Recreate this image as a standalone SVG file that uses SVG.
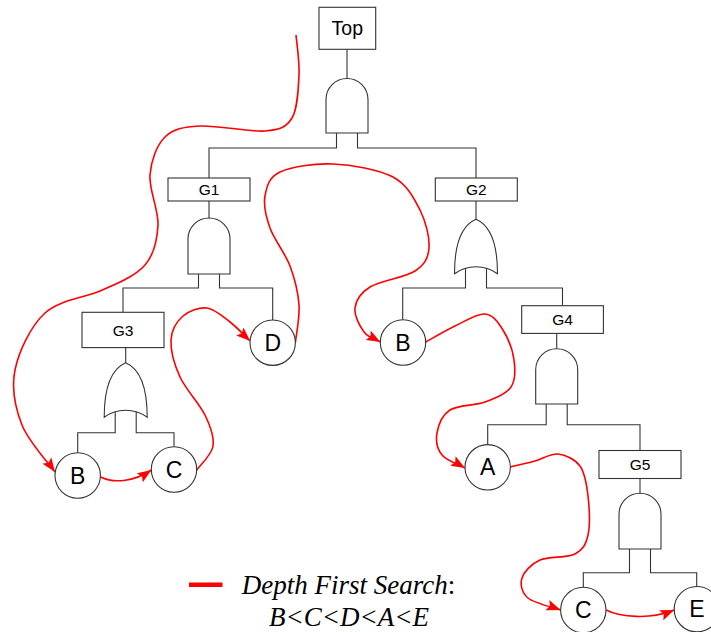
<svg xmlns="http://www.w3.org/2000/svg" width="711" height="632" viewBox="0 0 711 632">
  <style>
    .box { fill: #fff; stroke: #333; stroke-width: 1.1; }
    .gate { fill: #fff; stroke: #333; stroke-width: 1.1; }
    .event { fill: #fff; stroke: #333; stroke-width: 1.1; }
    .edge { fill: none; stroke: #333; stroke-width: 1.1; }
    .label { font-family: "Liberation Sans", Arial, sans-serif; fill: #000; text-anchor: middle; }
    .gl { font-size: 15.5px; }
    .el { font-size: 23px; }
    .dfs { fill: none; stroke: #ff0000; stroke-width: 1.6; marker-end: url(#arrow); }
    .legend { font-family: "Liberation Serif", "Times New Roman", serif; font-size: 27px; font-style: italic; fill: #000; text-anchor: middle; }
  </style>
  <defs>
    <marker id="arrow" markerUnits="userSpaceOnUse" markerWidth="14" markerHeight="11" viewBox="0 0 13 10" refX="13" refY="5" orient="auto">
      <path d="M0,0 L13,5 L0,10 L2.5,5 Z" fill="#ff0000"/>
    </marker>
  </defs>

  <rect width="711" height="632" fill="#fff"/>

  <!-- tree edges -->
  <g id="connectors">
    <path class="edge" d="M347,49.3 V78"/>
    <path class="edge" d="M336.5,133 V148 H209 V178"/>
    <path class="edge" d="M357.5,133 V148 H476 V178"/>
    <path class="edge" d="M209,201 V218"/>
    <path class="edge" d="M198.5,274 V288 H123 V312.3"/>
    <path class="edge" d="M219.5,274 V288 H272.7 V320"/>
    <path class="edge" d="M125.7,347.6 V362.7"/>
    <path class="edge" d="M115.2,411.8 V432.7 H77.7 V452.8"/>
    <path class="edge" d="M136.2,411.8 V432.7 H174 V446.8"/>
    <path class="edge" d="M476,201 V219.3"/>
    <path class="edge" d="M465.5,268.2 V288 H402.7 V319.8"/>
    <path class="edge" d="M486.5,268.2 V288 H562.5 V305.7"/>
    <path class="edge" d="M556.7,333.4 V348.7"/>
    <path class="edge" d="M546.2,404 V424.7 H487.7 V444.6"/>
    <path class="edge" d="M567.2,404 V424.7 H640 V450.5"/>
    <path class="edge" d="M640,478.5 V493.3"/>
    <path class="edge" d="M629.5,549 V572.7 H583.3 V587.3"/>
    <path class="edge" d="M650.5,549 V572.7 H696.7 V586.4"/>
  </g>

  <!-- depth first search traversal -->
  <g id="search-path">
    <path class="dfs" d="M296,35 C296.5,41.7 299.7,61.2 299,75 C298.3,88.8 297.7,108.7 292,118 C286.3,127.3 280.3,129.7 265,131 C249.7,132.3 216.7,125 200,126 C183.3,127 173.3,128.8 165,137 C156.7,145.2 151.2,160.3 150,175 C148.8,189.7 158.8,210 158,225 C157.2,240 154.7,253.8 145,265 C135.3,276.2 116.7,284 100,291 C83.3,298 59.2,300 45,313 C30.8,326 18.8,351.3 15,370 C11.2,388.7 15.3,408 22,425 C28.7,442 49.5,464.2 55,472"/>
    <path class="dfs" d="M100.5,477 C115,484 135,481 151.4,470"/>
    <path class="dfs" d="M196.7,470 C199.4,466 211.6,455.2 213,446 C214.4,436.8 210.5,426.5 205,415 C199.5,403.5 185.7,389.5 180,377 C174.3,364.5 170.5,350.2 171,340 C171.5,329.8 177,321.3 183,316 C189,310.7 199.2,307 207,308 C214.8,309 222.8,316.5 230,322 C237.2,327.5 246.7,337.8 250.2,341"/>
    <path class="dfs" d="M295.3,343 C295.9,336.7 299.9,317.8 299,305 C298.1,292.2 294.8,278.8 290,266 C285.2,253.2 274.2,239.7 270,228 C265.8,216.3 263.3,205.3 265,196 C266.7,186.7 268.7,177.3 280,172 C291.3,166.7 314.2,163.2 333,164 C351.8,164.8 378.5,169.3 393,177 C407.5,184.7 414,198.2 420,210 C426,221.8 429.8,237.8 429,248 C428.2,258.2 424.8,264.5 415,271 C405.2,277.5 380,280.8 370,287 C360,293.2 356,300.5 355,308 C354,315.5 359.8,326.3 364,332 C368.2,337.7 377.3,340.3 380.4,342"/>
    <path class="dfs" d="M425.7,342 C430.6,339.3 445.1,330.7 455,326 C464.9,321.3 477,313.3 485,314 C493,314.7 498.2,322.3 503,330 C507.8,337.7 512.7,350.5 514,360 C515.3,369.5 515.8,380 511,387 C506.2,394 495.2,398.2 485,402 C474.8,405.8 458,404.8 450,410 C442,415.2 438.3,425.5 437,433 C435.7,440.5 437.3,449.2 442,455 C446.7,460.8 461.2,465.8 465,468"/>
    <path class="dfs" d="M510.3,467 C514.4,466 527,463.2 535,461 C543,458.8 550.5,453.2 558,454 C565.5,454.8 575,459 580,466 C585,473 586.7,484.5 588,496 C589.3,507.5 590.2,525.3 588,535 C585.8,544.7 583,549.8 575,554 C567,558.2 548.8,556 540,560 C531.2,564 524,571.7 522,578 C520,584.3 521.6,592.7 528,598 C534.4,603.3 555.2,608 560.6,610"/>
    <path class="dfs" d="M606,610 C620,617 650,620 674.2,610"/>
  </g>

  <!-- top event -->
  <g id="top">
    <rect class="box" x="319" y="7.3" width="56.7" height="42"/>
    <text class="label" x="347.3" y="35" font-size="19.5">Top</text>
    <path class="gate" d="M326,133 V99.5 A21,21 0 0 1 368,99.5 V133 Z"/>
  </g>

  <g id="G1">
    <rect class="box" x="168" y="178" width="82" height="23"/>
    <text class="label gl" x="209" y="195">G1</text>
    <path class="gate" d="M188,274 V239 A21,21 0 0 1 230,239 V274 Z"/>
  </g>

  <g id="G2">
    <rect class="box" x="435.3" y="178" width="82" height="23"/>
    <text class="label gl" x="476.3" y="195">G2</text>
    <path class="gate" d="M454.5,273.7 C454.5,241.3 462,225.3 476,219.3 C490,225.3 497.5,241.3 497.5,273.7 A36.5,36.5 0 0 0 454.5,273.7 Z"/>
  </g>

  <g id="G3">
    <rect class="box" x="82" y="312.3" width="82" height="35.3"/>
    <text class="label gl" x="123" y="335.5">G3</text>
    <path class="gate" d="M104.2,417.3 C104.2,384.7 111.7,368.7 125.7,362.7 C139.7,368.7 147.2,384.7 147.2,417.3 A36.5,36.5 0 0 0 104.2,417.3 Z"/>
  </g>

  <g id="G4">
    <rect class="box" x="521.7" y="305.7" width="81.7" height="27.7"/>
    <text class="label gl" x="562.5" y="325">G4</text>
    <path class="gate" d="M535.7,404 V369.7 A21,21 0 0 1 577.7,369.7 V404 Z"/>
  </g>

  <g id="G5">
    <rect class="box" x="599" y="450.5" width="82" height="28"/>
    <text class="label gl" x="640" y="470">G5</text>
    <path class="gate" d="M619,549 V514.3 A21,21 0 0 1 661,514.3 V549 Z"/>
  </g>

  <!-- basic events -->
  <g id="B1">
    <circle class="event" cx="77.7" cy="475.5" r="22.7"/>
    <text class="label el" x="77.7" y="483.5">B</text>
  </g>
  <g id="C1">
    <circle class="event" cx="174" cy="469.5" r="22.7"/>
    <text class="label el" x="174" y="477.5">C</text>
  </g>
  <g id="D">
    <circle class="event" cx="272.7" cy="342.7" r="22.7"/>
    <text class="label el" x="272.7" y="350.7">D</text>
  </g>
  <g id="B2">
    <circle class="event" cx="403" cy="342.5" r="22.7"/>
    <text class="label el" x="403" y="350.5">B</text>
  </g>
  <g id="A">
    <circle class="event" cx="487.7" cy="467.3" r="22.7"/>
    <text class="label el" x="487.7" y="475.3">A</text>
  </g>
  <g id="C2">
    <circle class="event" cx="583.3" cy="610" r="22.7"/>
    <text class="label el" x="583.3" y="618">C</text>
  </g>
  <g id="E">
    <circle class="event" cx="696.9" cy="609.2" r="22.7"/>
    <text class="label el" x="696.9" y="617.2">E</text>
  </g>

  <!-- legend -->
  <g id="legend">
    <line x1="189" y1="584.8" x2="222.5" y2="584.8" stroke="#ff0000" stroke-width="4.5"/>
    <text class="legend" x="348.5" y="594">Depth First Search<tspan font-style="normal">:</tspan></text>
    <text class="legend" x="349" y="626">B&lt;C&lt;D&lt;A&lt;E</text>
  </g>
</svg>
